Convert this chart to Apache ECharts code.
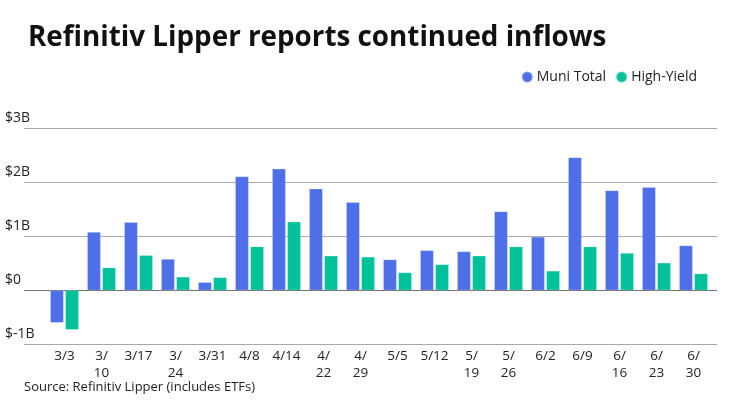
<!DOCTYPE html>
<html>
<head>
<meta charset="utf-8">
<script src="https://cdn.jsdelivr.net/npm/echarts@6/dist/echarts.min.js"></script>
<style>
html,body{margin:0;padding:0;background:#fff;}
#chart{width:740px;height:416px;}
</style>
</head>
<body>
<div id="chart"></div>
<script>
const categories = ['3/3','3/\n10','3/17','3/\n24','3/31','4/8','4/14','4/\n22','4/\n29','5/5','5/12','5/\n19','5/\n26','6/2','6/9','6/\n16','6/\n23','6/\n30'];
const muniTotal = [-0.60, 1.08, 1.26, 0.58, 0.15, 2.11, 2.25, 1.88, 1.63, 0.57, 0.74, 0.72, 1.46, 0.99, 2.46, 1.85, 1.91, 0.83];
const highYield = [-0.73, 0.42, 0.65, 0.25, 0.24, 0.81, 1.27, 0.64, 0.62, 0.33, 0.48, 0.64, 0.81, 0.36, 0.81, 0.69, 0.51, 0.31];
const yTicks = ['$-1B', '$0', '$1B', '$2B', '$3B'];

const FONT = '"Open Sans", Lato, sans-serif';
const BLUE = '#4f6fe8';
const GREEN = '#00c19a';

const chart = echarts.init(document.getElementById('chart'));
chart.setOption({
  backgroundColor: '#fff',
  animation: false,
  title: {
    text: 'Refinitiv Lipper reports continued inflows',
    left: 23, top: 19,
    textStyle: {fontFamily: FONT, fontSize: 27.8, fontWeight: 'bold', color: '#111'}
  },
  legend: {
    data: ['Muni Total', 'High-Yield'],
    right: 38, top: 65,
    icon: 'circle', itemWidth: 11, itemHeight: 11, itemGap: 9,
    textStyle: {fontFamily: FONT, fontSize: 14, color: '#222', padding: [0,0,0,-1]}
  },
  graphic: [{
    type: 'text', left: 24, top: 381,
    style: {text: 'Source: Refinitiv Lipper (includes ETFs)', font: '13px ' + FONT, fill: '#222'}
  }],
  grid: [
    {left: 46, right: 28, top: 128.3, bottom: 71.7},
    {left: 24, right: 23, top: 128.3, bottom: 71.7}
  ],
  xAxis: [
    {
      type: 'category', gridIndex: 0, data: categories,
      axisLine: {show: false}, axisTick: {show: false},
      axisLabel: {interval: 0, fontFamily: FONT, fontSize: 13.5, lineHeight: 16.5, color: '#222', margin: 4}
    },
    {type: 'category', gridIndex: 1, data: [''], show: false}
  ],
  yAxis: [
    {type: 'value', gridIndex: 0, min: -1, max: 3, interval: 1, show: false, splitLine: {show: false}},
    {
      type: 'value', gridIndex: 1, min: -1, max: 3, interval: 1,
      axisLine: {show: false}, axisTick: {show: false},
      splitLine: {lineStyle: {color: ['#a8a8a8', '#707070', '#a8a8a8', '#a8a8a8', '#a8a8a8'], width: 1.2}},
      axisLabel: {
        align: 'left', verticalAlign: 'bottom', margin: 19,
        padding: [0, 0, 3, 0],
        fontFamily: FONT, fontSize: 14, color: '#222',
        formatter: function (v) { return yTicks[Math.round(v) + 1]; }
      }
    }
  ],
  series: [
    {
      name: 'Muni Total', type: 'bar', xAxisIndex: 0, yAxisIndex: 0,
      data: muniTotal, barWidth: 13.5, barGap: '12%',
      itemStyle: {color: BLUE, borderColor: 'rgba(255,255,255,0.35)', borderWidth: 0.6}
    },
    {
      name: 'High-Yield', type: 'bar', xAxisIndex: 0, yAxisIndex: 0,
      data: highYield, barWidth: 13.5, barGap: '12%',
      itemStyle: {color: GREEN, borderColor: 'rgba(255,255,255,0.35)', borderWidth: 0.6}
    }
  ]
});
</script>
</body>
</html>
